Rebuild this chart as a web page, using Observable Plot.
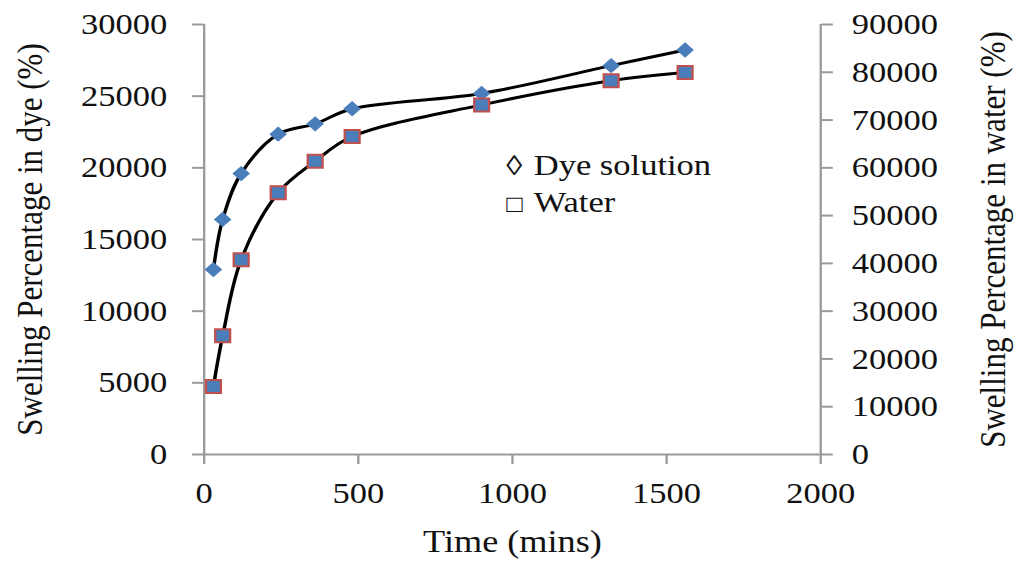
<!DOCTYPE html>
<html>
<head>
<meta charset="utf-8">
<script src="https://cdn.jsdelivr.net/npm/d3@7"></script>
<script src="https://cdn.jsdelivr.net/npm/@observablehq/plot@0.6"></script>
<style>
  html, body { margin: 0; padding: 0; background: #fff; overflow: hidden; }
  #wrap { position: relative; width: 885px; height: 561px; transform: scaleX(1.1503); transform-origin: 0 0; }
  #legend { position: absolute; left: 440px; top: 147px; font-family: "Liberation Serif", "Times New Roman", serif; font-size: 30px; line-height: 36px; color: #111; white-space: nowrap; }
  #legend .sym { display: inline-block; width: 24px; }
  #legend .d { font-size: 28px; }
  #legend .s { font-size: 24px; }
  svg [aria-label="x-axis tick"] path, svg [aria-label="y-axis tick"] path { stroke: #999; stroke-width: 2; stroke-opacity: 1; }
  svg text { fill: #111; }
</style>
</head>
<body>
<div id="wrap">
  <div id="chart"></div>
  <div id="legend">
    <div><span class="sym d">◊</span>Dye solution</div>
    <div><span class="sym s">□</span>Water</div>
  </div>
</div>
<script>
const times = [30, 60, 120, 240, 360, 480, 900, 1320, 1560];
const dyeSwelling = [12900, 16400, 19600, 22350, 23070, 24120, 25190, 27130, 28220];
const waterSwelling = [14230, 24840, 40750, 54780, 61390, 66560, 73170, 78240, 79950];
const xTicks = [0, 500, 1000, 1500, 2000];
const leftTicks = [0, 5000, 10000, 15000, 20000, 25000, 30000];
const rightTicks = [0, 10000, 20000, 30000, 40000, 50000, 60000, 70000, 80000, 90000];
const xLabel = "Time (mins)";
const leftLabel = "Swelling Percentage in dye (%)";
const rightLabel = "Swelling Percentage in water (%)";

const ratio = 3; // right axis (0–90000) mapped onto left scale (0–30000)
const dye = times.map((t, i) => ({t, v: dyeSwelling[i]}));
const water = times.map((t, i) => ({t, v: waterSwelling[i] / ratio}));

const chart = Plot.plot({
  width: 885,
  height: 561,
  marginLeft: 177,
  marginRight: 172,
  marginTop: 24,
  marginBottom: 107,
  style: {fontFamily: "'Liberation Serif', 'Times New Roman', serif", fontSize: "30px", background: "#fff", overflow: "visible"},
  x: {domain: [0, 2000]},
  y: {domain: [0, 30000]},
  marks: [
    Plot.axisX(xTicks, {tickSize: 10, tickPadding: 17, label: null, tickFormat: d => String(d), fontVariant: "normal"}),
    Plot.axisY(leftTicks, {anchor: "left", tickSize: 10, tickPadding: 22, label: null, tickFormat: d => String(d), fontVariant: "normal"}),
    Plot.axisY(rightTicks.map(v => v / ratio), {anchor: "right", tickSize: 10, tickPadding: 17, label: null, tickFormat: d => String(Math.round(d * ratio)), fontVariant: "normal"}),
    Plot.ruleX([0, 2000], {stroke: "#999", strokeWidth: 2}),
    Plot.ruleY([0], {stroke: "#999", strokeWidth: 2}),
    Plot.line(dye, {x: "t", y: "v", curve: "catmull-rom", stroke: "#000", strokeWidth: 3}),
    Plot.line(water, {x: "t", y: "v", curve: "catmull-rom", stroke: "#000", strokeWidth: 3}),
    Plot.dot(dye, {x: "t", y: "v", symbol: "diamond2", r: 6.9, fill: "#4a7ebb", stroke: "none"}),
    Plot.dot(water, {x: "t", y: "v", symbol: "square", r: 7.3, fill: "#4a7ebb", stroke: "#c0504d", strokeWidth: 2}),
    Plot.text([xLabel], {frameAnchor: "bottom", dy: 87, lineAnchor: "middle", textAnchor: "middle", fontSize: 31.5, fill: "#111"}),
    Plot.text([leftLabel], {frameAnchor: "left", dx: -151, rotate: -90, textAnchor: "middle", lineAnchor: "middle", fontSize: 31, fill: "#111"}),
    Plot.text([rightLabel], {frameAnchor: "right", dx: 150, rotate: -90, textAnchor: "middle", lineAnchor: "middle", fontSize: 31, fill: "#111"})
  ]
});
document.getElementById("chart").appendChild(chart);
</script>
</body>
</html>
